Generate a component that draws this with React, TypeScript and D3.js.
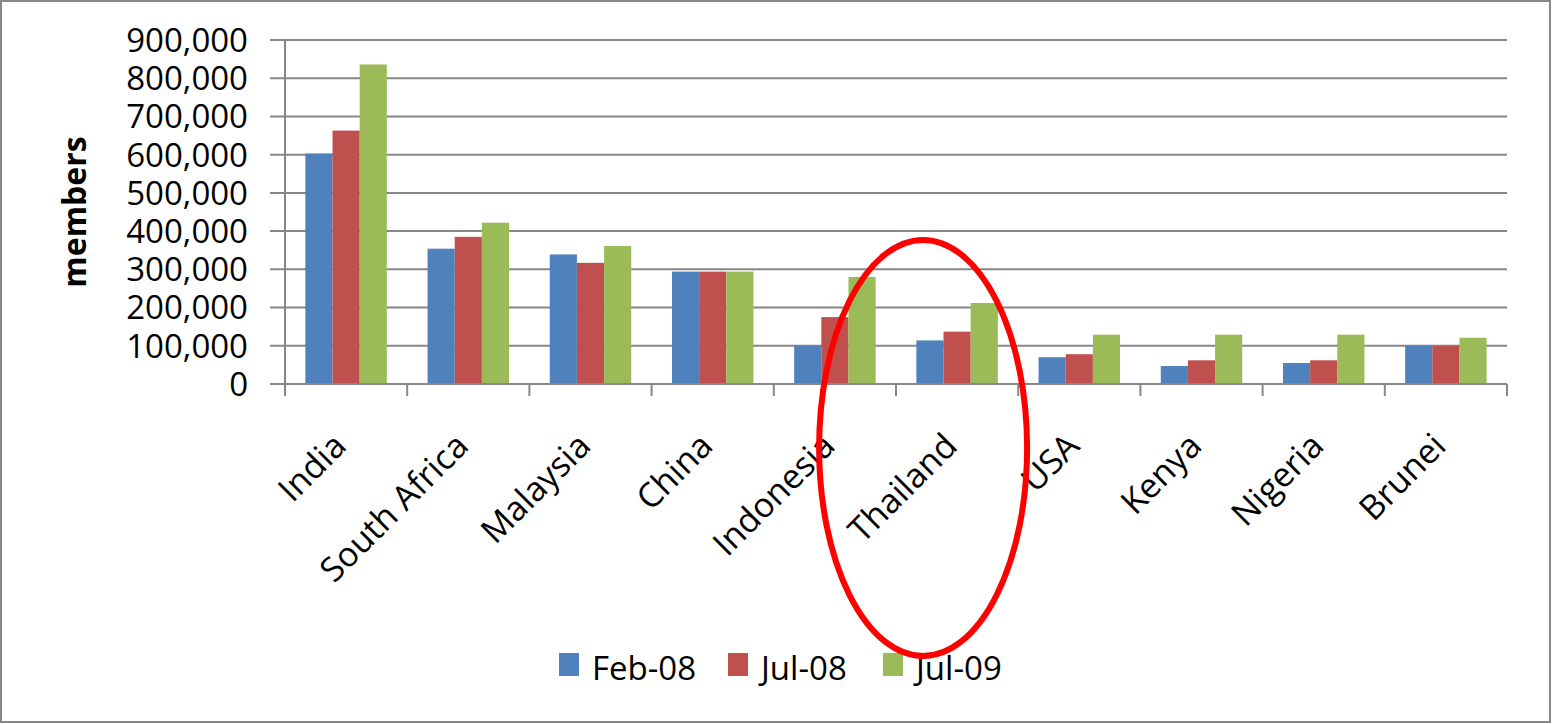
import * as d3 from "d3"

const countries = ["India", "South Africa", "Malaysia", "China", "Indonesia", "Thailand", "USA", "Kenya", "Nigeria", "Brunei"]
const seriesNames = ["Feb-08", "Jul-08", "Jul-09"]
const feb08 = [603000, 354000, 339000, 294000, 100000, 114000, 70000, 47000, 55000, 100000]
const jul08 = [663000, 385000, 317000, 294000, 175000, 137000, 78000, 62000, 62000, 100000]
const jul09 = [836000, 422000, 361000, 294000, 280000, 212000, 129000, 129000, 129000, 121000]
const yTicks = [0, 100000, 200000, 300000, 400000, 500000, 600000, 700000, 800000, 900000]
const colors = ["#4F81BD", "#C0504D", "#9BBB59"]

const W = 1552
const H = 724
const plot = { left: 285, right: 1507, top: 40, bottom: 384 }
const FONT = "'Open Sans', 'Noto Sans', sans-serif"
const gridColor = "#878787"

export default function App() {
    const series = [feb08, jul08, jul09]

    const x0 = d3.scaleBand<string>()
        .domain(countries)
        .range([plot.left, plot.right])
        .padding(0)

    // Excel-style 150% gap width
    const x1 = d3.scaleBand<string>()
        .domain(seriesNames)
        .range([0, x0.bandwidth()])
        .paddingInner(0)
        .paddingOuter(0.75)

    const y = d3.scaleLinear()
        .domain([0, 900000])
        .range([plot.bottom, plot.top])

    const fmt = d3.format(",")

    const catEdges = countries.map(c => x0(c) as number).concat([plot.right])

    // annotation ellipse around the Thailand group
    const thaiX = (x0("Thailand") as number) + x0.bandwidth() / 2 - 34

    const legendX = [559, 728, 883]

    return (
        <svg
            width={W}
            height={H}
            style={{ position: "absolute", left: 0, top: 0, background: "#fff" }}
            fontFamily={FONT}
        >
            <rect x={1} y={1} width={W - 3} height={H - 3} fill="#fff" stroke="#888" strokeWidth={2} />

            {yTicks.map(t => (
                <line
                    key={t}
                    x1={plot.left - 15}
                    x2={plot.right}
                    y1={y(t)}
                    y2={y(t)}
                    stroke={gridColor}
                    strokeWidth={2}
                />
            ))}

            {countries.map((c, i) => (
                <g key={c} transform={`translate(${x0(c)},0)`}>
                    {seriesNames.map((s, j) => (
                        <rect
                            key={s}
                            x={x1(s)}
                            y={y(series[j][i])}
                            width={x1.bandwidth()}
                            height={y(0) - y(series[j][i])}
                            fill={colors[j]}
                        />
                    ))}
                </g>
            ))}

            <line x1={plot.left} x2={plot.left} y1={plot.top} y2={plot.bottom + 12} stroke={gridColor} strokeWidth={2} />
            <line x1={plot.left - 15} x2={plot.right} y1={plot.bottom} y2={plot.bottom} stroke={gridColor} strokeWidth={2} />
            {catEdges.map((e, i) => (
                <line key={i} x1={e} x2={e} y1={plot.bottom} y2={plot.bottom + 12} stroke={gridColor} strokeWidth={2} />
            ))}

            {yTicks.map(t => (
                <text
                    key={t}
                    x={248}
                    y={y(t)}
                    dy="0.36em"
                    textAnchor="end"
                    fontSize={33}
                    fill="#000"
                >
                    {fmt(t)}
                </text>
            ))}

            <text
                transform={`translate(86,${(plot.top + plot.bottom) / 2}) rotate(-90)`}
                textAnchor="middle"
                fontSize={32}
                fontWeight="bold"
                fill="#000"
            >
                members
            </text>

            {countries.map(c => {
                const cx = (x0(c) as number) + x0.bandwidth() / 2
                return (
                    <text
                        key={c}
                        transform={`translate(${cx + 2},448) rotate(-45)`}
                        textAnchor="end"
                        fontSize={34}
                        fill="#000"
                    >
                        {c}
                    </text>
                )
            })}

            {seriesNames.map((s, j) => (
                <g key={s} transform={`translate(${legendX[j]},653)`}>
                    <rect x={0} y={0} width={20} height={23} fill={colors[j]} />
                    <text x={33} y={27} fontSize={33} fill="#000">{s}</text>
                </g>
            ))}

            <ellipse cx={thaiX} cy={448} rx={104} ry={208} fill="none" stroke="#FF0000" strokeWidth={6} />
        </svg>
    )
}
